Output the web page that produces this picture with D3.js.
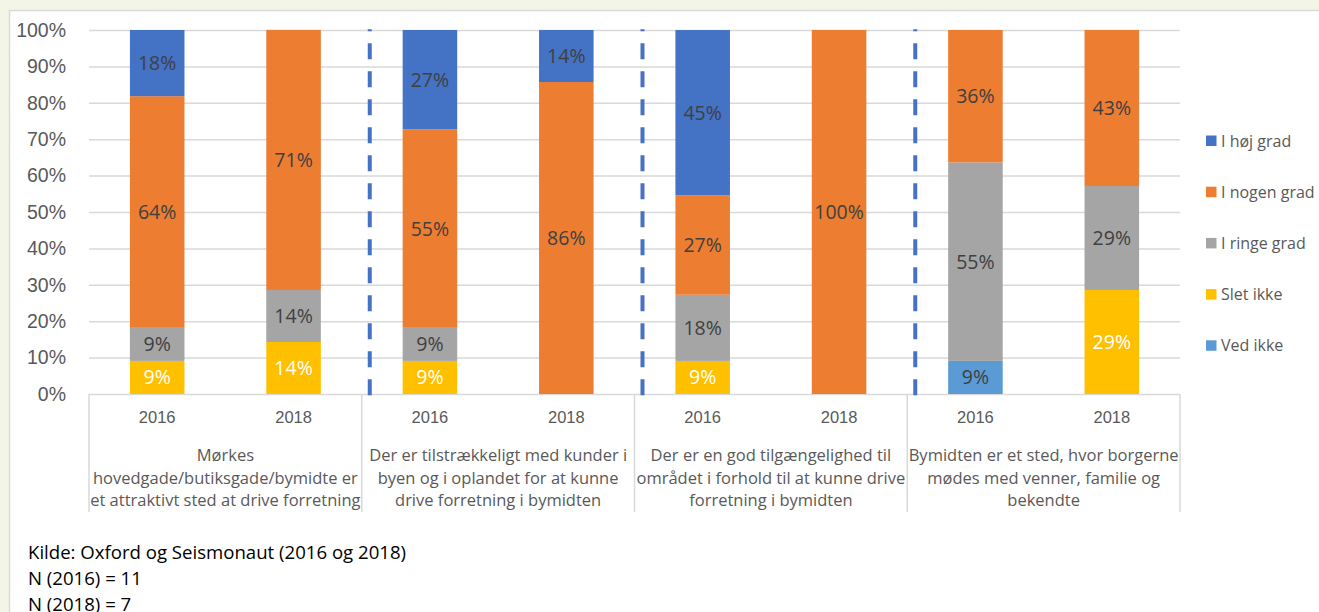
<!DOCTYPE html>
<html>
<head>
<meta charset="utf-8">
<script src="https://cdn.jsdelivr.net/npm/d3@7"></script>
<style>
body { margin: 0; background: #f3f6e7; }
svg { display: block; font-family: "Open Sans", sans-serif; }
.grid line { stroke: #d9d9d9; stroke-width: 1.5; }
.grid .domain { display: none; }
.y-axis text { fill: #595959; font-size: 19.5px; }
.year-axis text { fill: #595959; font-size: 16.5px; }
.bar-label { font-size: 19.5px; }
.cat-label { fill: #595959; font-size: 16.5px; }
.legend text { fill: #595959; font-size: 16px; }
.note { fill: #000; font-size: 18.6px; }
</style>
</head>
<body>
<div class="chart"></div>
<script>
// data
var groups = [
  ['Mørkes', 'hovedgade/butiksgade/bymidte er', 'et attraktivt sted at drive forretning'],
  ['Der er tilstrækkeligt med kunder i', 'byen og i oplandet for at kunne', 'drive forretning i bymidten'],
  ['Der er en god tilgængelighed til', 'området i forhold til at kunne drive', 'forretning i bymidten'],
  ['Bymidten er et sted, hvor borgerne', 'mødes med venner, familie og', 'bekendte']
];
var years = ['2016', '2018', '2016', '2018', '2016', '2018', '2016', '2018'];
var seriesNames = ['Ved ikke', 'Slet ikke', 'I ringe grad', 'I nogen grad', 'I høj grad'];
var vedIkke   = [0, 0, 0, 0, 0, 0, 9.09, 0];
var sletIkke  = [9.09, 14.29, 9.09, 0, 9.09, 0, 0, 28.57];
var ringeGrad = [9.09, 14.29, 9.09, 0, 18.18, 0, 54.55, 28.57];
var nogenGrad = [63.64, 71.43, 54.55, 85.71, 27.27, 100, 36.36, 42.86];
var hojGrad   = [18.18, 0, 27.27, 14.29, 45.45, 0, 0, 0];
var yTicks = [0, 10, 20, 30, 40, 50, 60, 70, 80, 90, 100];
var notes = ['Kilde: Oxford og Seismonaut (2016 og 2018)', 'N (2016) = 11', 'N (2018) = 7'];

var seriesValues = [vedIkke, sletIkke, ringeGrad, nogenGrad, hojGrad];
var colors = ['#5b9bd5', '#ffc000', '#a5a5a5', '#ed7d31', '#4472c4'];
var labelColors = ['#404040', '#ffffff', '#404040', '#404040', '#404040'];

var width = 1319, height = 612;
var plotLeft = 89, plotRight = 1180, plotTop = 30, plotBottom = 394;

var rows = years.map(function(yr, i){
  var r = {i: i};
  seriesNames.forEach(function(s, k){ r[s] = seriesValues[k][i]; });
  return r;
});
var stacked = d3.stack().keys(seriesNames)(rows);

var x = d3.scaleBand()
.domain(d3.range(years.length))
.range([plotLeft, plotRight])
.paddingInner(0.6)
.paddingOuter(0.3)
;

var g = d3.scaleBand()
.domain(d3.range(groups.length))
.range([plotLeft, plotRight])
;

var y = d3.scaleLinear()
.domain([0, 100])
.range([plotBottom, plotTop])
;

var svg = d3
.select('div.chart')
.append('svg')
.attr('width', width)
.attr('height', height)
;

// panel
svg.append('rect')
.attr('x', 9.5).attr('y', 10.5)
.attr('width', width).attr('height', height)
.attr('fill', '#fff')
.attr('stroke', '#d9d9d9')
.attr('stroke-width', 1.5)
;

// gridlines
svg.append('g')
.attr('class', 'grid')
.attr('transform', 'translate(' + plotLeft + ',0)')
.call(d3.axisLeft(y).tickValues(yTicks).tickSize(-(plotRight - plotLeft)).tickFormat(''))
;

svg.append('g')
.attr('class', 'y-axis grid')
.attr('transform', 'translate(' + (plotLeft - 23) + ',0)')
.call(d3.axisLeft(y).tickValues(yTicks).tickSize(0).tickPadding(0).tickFormat(function(d){ return d + '%'; }))
.selectAll('line').remove()
;

// category box lines
var bounds = groups.map(function(d, i){ return g(i); }).concat([plotRight]);
svg.selectAll('.sep')
.data(bounds)
.enter()
.append('line')
.attr('class', 'sep')
.attr('x1', function(d){ return d; })
.attr('x2', function(d){ return d; })
.attr('y1', plotBottom)
.attr('y2', plotBottom + 118)
.attr('stroke', '#d9d9d9')
.attr('stroke-width', 1.5)
;

// bars
var layer = svg.selectAll('.layer')
.data(stacked)
.enter()
.append('g')
.attr('class', 'layer')
;

layer.selectAll('rect')
.data(function(d){ return d; })
.enter()
.append('rect')
.attr('x', function(d){ return x(d.data.i); })
.attr('width', x.bandwidth())
.attr('y', function(d){ return y(d[1]); })
.attr('height', function(d){ return y(d[0]) - y(d[1]); })
.attr('fill', function(d){ return colors[seriesNames.indexOf(d3.select(this.parentNode).datum().key)]; })
;

layer.each(function(s, k){
  d3.select(this)
  .selectAll('text')
  .data(s.filter(function(d){ return d[1] - d[0] > 0; }))
  .enter()
  .append('text')
  .attr('class', 'bar-label')
  .attr('x', function(d){ return x(d.data.i) + x.bandwidth() / 2; })
  .attr('y', function(d){ return (y(d[0]) + y(d[1])) / 2; })
  .attr('dy', '0.36em')
  .attr('text-anchor', 'middle')
  .attr('fill', labelColors[k])
  .text(function(d){ return Math.round(d[1] - d[0]) + '%'; })
  ;
});

// dashed dividers
svg.selectAll('.divider')
.data(bounds.slice(1, groups.length))
.enter()
.append('line')
.attr('class', 'divider')
.attr('x1', function(d){ return d + 8; })
.attr('x2', function(d){ return d + 8; })
.attr('y1', plotBottom + 1.3)
.attr('y2', plotTop - 0.7)
.attr('stroke', '#4472c4')
.attr('stroke-width', 4)
.attr('stroke-dasharray', '16,12')
;

// year axis
var yearAxis = svg.append('g')
.attr('class', 'year-axis')
.attr('transform', 'translate(0,' + plotBottom + ')')
.call(d3.axisBottom(x).tickSize(0).tickPadding(17).tickFormat(function(d){ return years[d]; }))
;
yearAxis.select('.domain').remove();

// group labels
svg.selectAll('.cat-label')
.data(groups)
.enter()
.append('text')
.attr('class', 'cat-label')
.attr('text-anchor', 'middle')
.attr('x', function(d, i){ return g(i) + g.bandwidth() / 2; })
.attr('y', 461)
.selectAll('tspan')
.data(function(d){ return d; })
.enter()
.append('tspan')
.attr('x', function(){ return d3.select(this.parentNode).attr('x'); })
.attr('dy', function(d, i){ return i ? 22.5 : 0; })
.text(function(d){ return d; })
;

// legend
var legend = svg.append('g')
.attr('class', 'legend')
.selectAll('g')
.data(seriesNames.slice().reverse())
.enter()
.append('g')
.attr('transform', function(d, i){ return 'translate(1206,' + (141 + i * 51.2) + ')'; })
;
legend.append('rect')
.attr('x', 0).attr('y', -5.5)
.attr('width', 10.5).attr('height', 10.5)
.attr('fill', function(d){ return colors[seriesNames.indexOf(d)]; })
;
legend.append('text')
.attr('x', 15)
.attr('dy', '0.35em')
.text(function(d){ return d; })
;

// notes
svg.selectAll('.note')
.data(notes)
.enter()
.append('text')
.attr('class', 'note')
.attr('x', 28)
.attr('y', function(d, i){ return 559 + i * 26; })
.text(function(d){ return d; })
;
</script>
</body>
</html>
